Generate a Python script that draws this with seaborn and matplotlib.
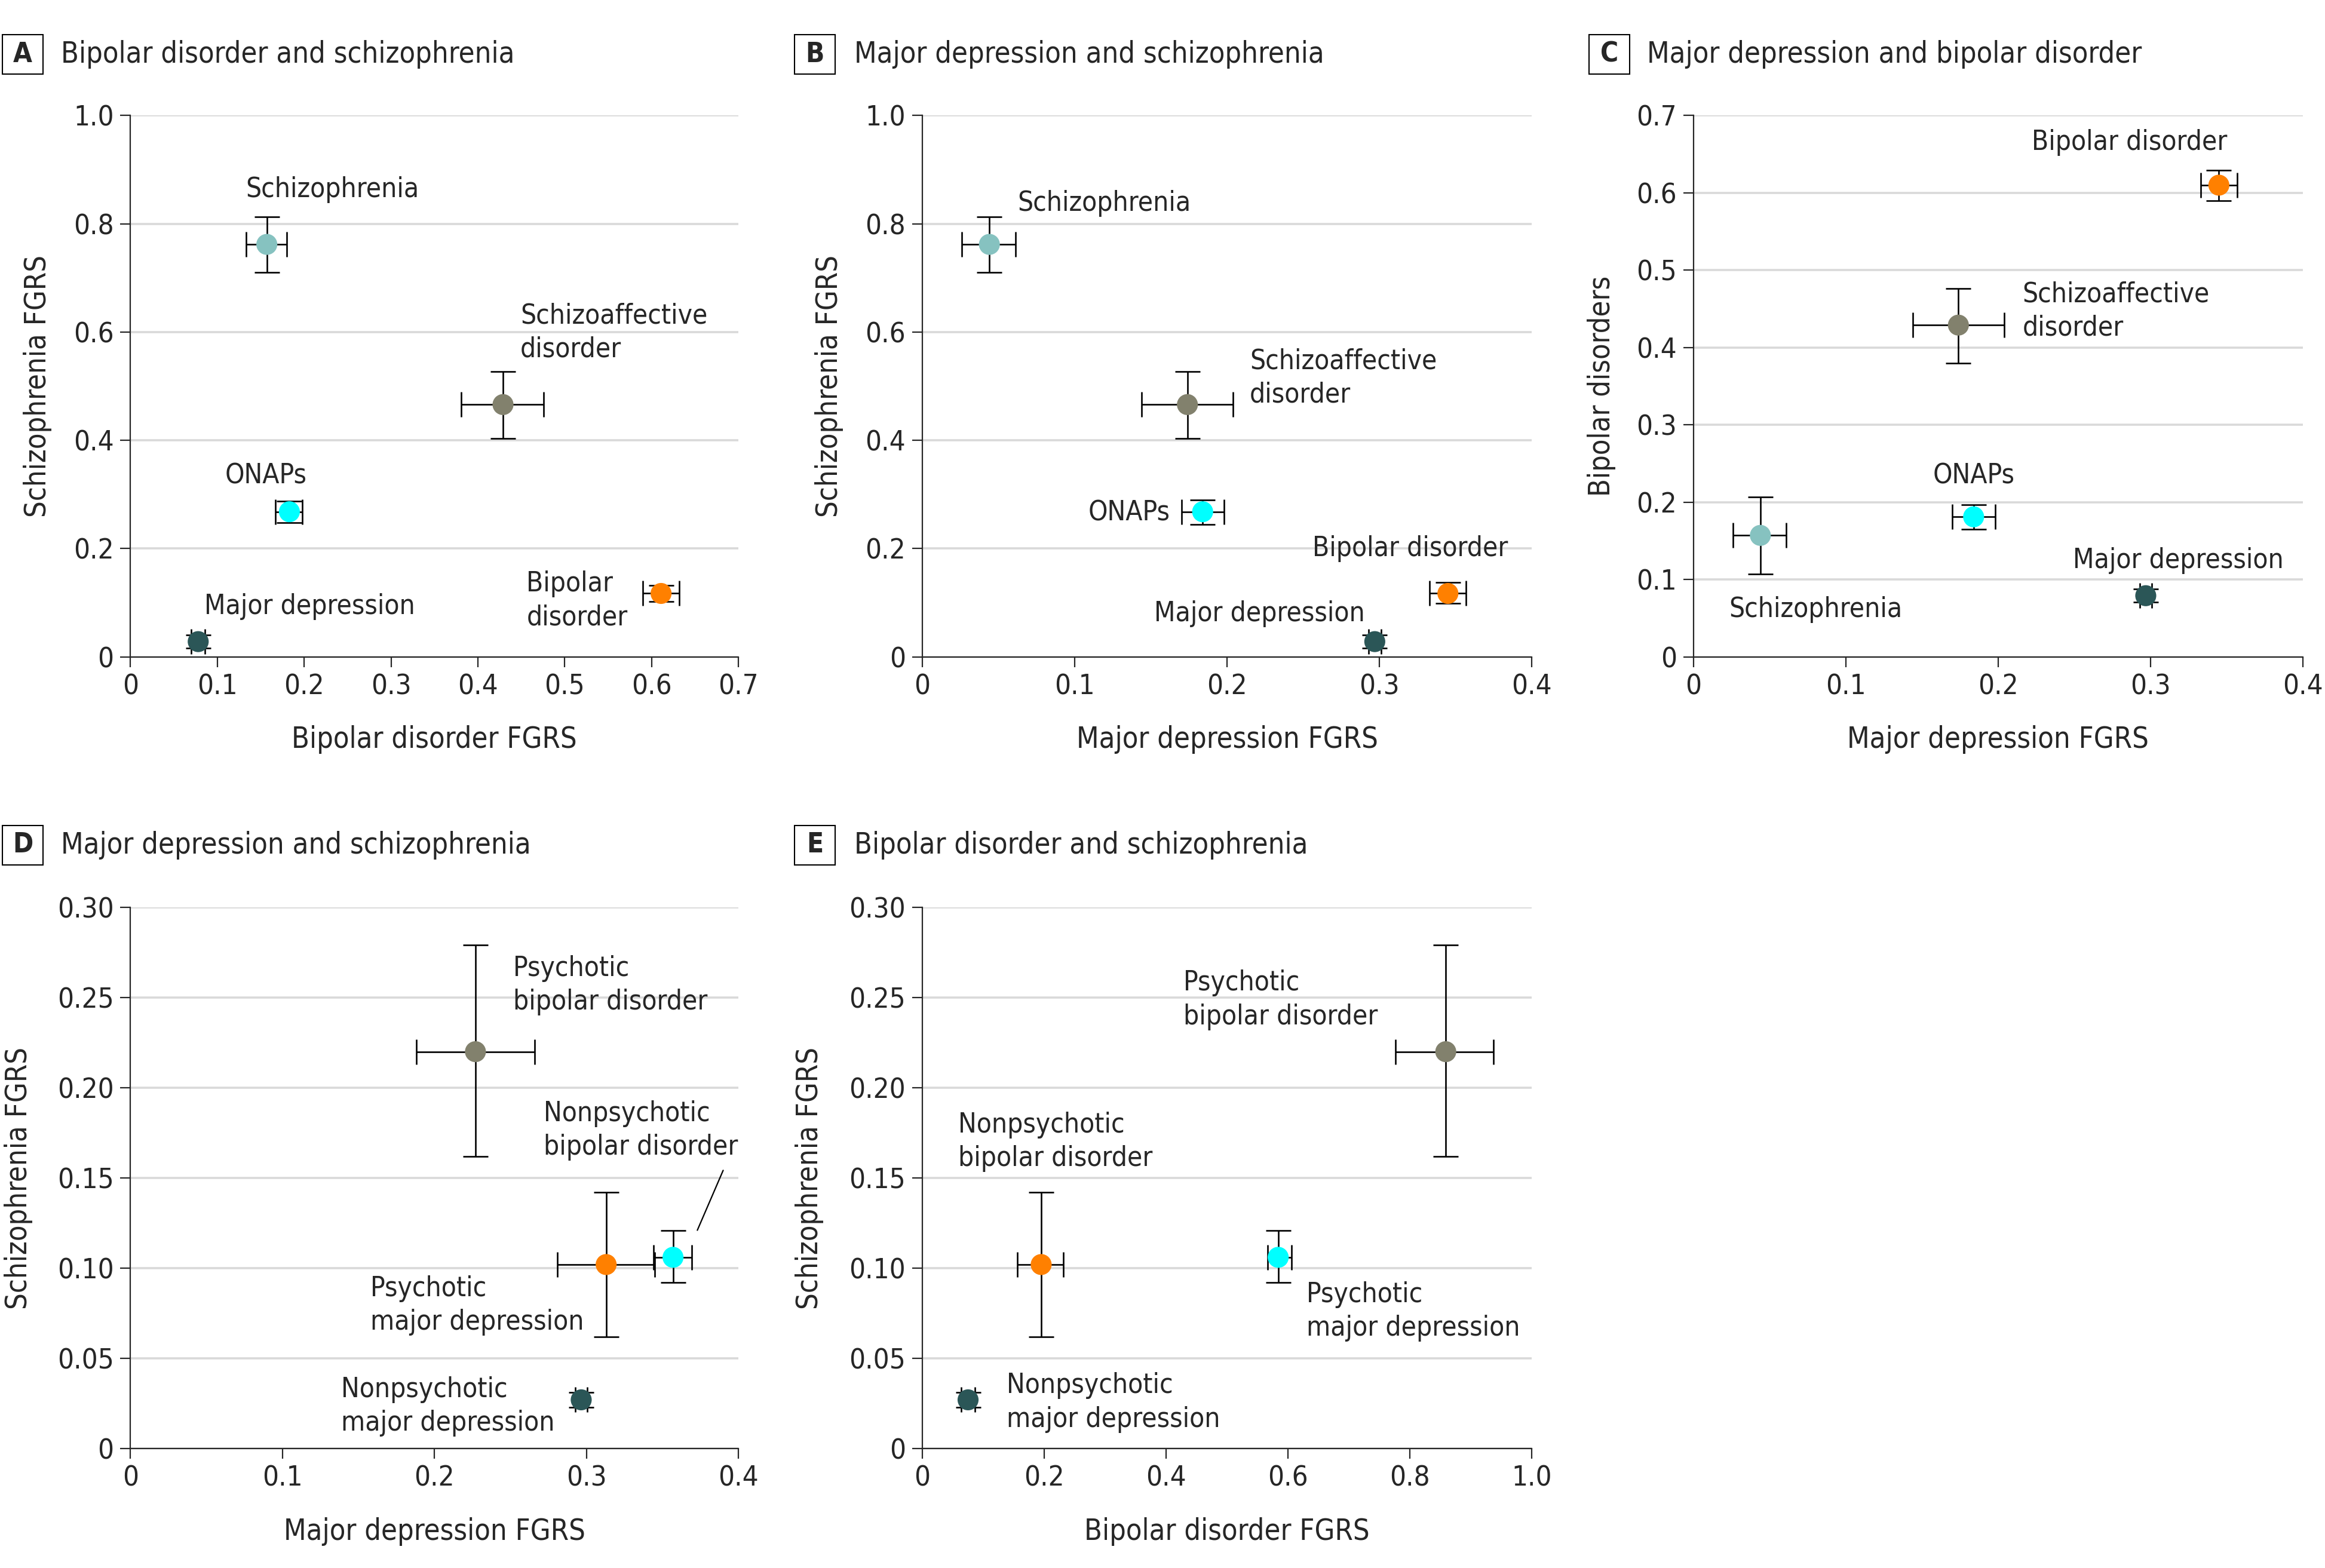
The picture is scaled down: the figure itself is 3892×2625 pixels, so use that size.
import numpy as np
import pandas as pd
import matplotlib
matplotlib.use('Agg')
import matplotlib.pyplot as plt
import matplotlib.ticker as mticker
from matplotlib.patches import Rectangle
import seaborn as sns

sns.set_style('ticks')
plt.rcParams['font.family'] = ['Liberation Sans Narrow', 'DejaVu Sans']
plt.rcParams['font.stretch'] = 'condensed'

# group colours
sz_col = '#86C2C0'
sza_col = '#82816D'
onap_col = '#00FFFF'
bd_col = '#FF8000'
md_col = '#2B5657'

# A: bipolar disorder FGRS (x) vs schizophrenia FGRS (y)
a_names = ['Schizophrenia', 'Schizoaffective disorder', 'ONAPs', 'Bipolar disorder', 'Major depression']
a_x = [0.157, 0.429, 0.183, 0.611, 0.078]
a_xlo = [0.133, 0.381, 0.167, 0.590, 0.070]
a_xhi = [0.180, 0.476, 0.198, 0.632, 0.086]
a_y = [0.762, 0.466, 0.268, 0.117, 0.028]
a_ylo = [0.710, 0.403, 0.248, 0.102, 0.016]
a_yhi = [0.813, 0.527, 0.288, 0.132, 0.040]

# B: major depression FGRS (x) vs schizophrenia FGRS (y)
b_names = a_names
b_x = [0.044, 0.174, 0.184, 0.345, 0.297]
b_xlo = [0.026, 0.144, 0.170, 0.333, 0.293]
b_xhi = [0.061, 0.204, 0.198, 0.357, 0.301]
b_y = [0.762, 0.466, 0.268, 0.117, 0.028]
b_ylo = [0.710, 0.403, 0.245, 0.099, 0.016]
b_yhi = [0.813, 0.527, 0.290, 0.137, 0.040]

# C: major depression FGRS (x) vs bipolar disorder FGRS (y)
c_names = a_names
c_x = [0.044, 0.174, 0.184, 0.345, 0.297]
c_xlo = [0.026, 0.144, 0.170, 0.333, 0.293]
c_xhi = [0.061, 0.204, 0.198, 0.357, 0.301]
c_y = [0.157, 0.429, 0.181, 0.610, 0.079]
c_ylo = [0.107, 0.380, 0.165, 0.590, 0.0705]
c_yhi = [0.207, 0.476, 0.197, 0.629, 0.0875]

# D: major depression FGRS (x) vs schizophrenia FGRS (y), subtypes
d_names = ['Psychotic bipolar disorder', 'Psychotic major depression',
           'Nonpsychotic bipolar disorder', 'Nonpsychotic major depression']
d_x = [0.227, 0.313, 0.357, 0.2966]
d_xlo = [0.188, 0.281, 0.344, 0.2926]
d_xhi = [0.266, 0.345, 0.3695, 0.3006]
d_y = [0.220, 0.102, 0.106, 0.027]
d_ylo = [0.162, 0.062, 0.092, 0.023]
d_yhi = [0.279, 0.142, 0.121, 0.031]

# E: bipolar disorder FGRS (x) vs schizophrenia FGRS (y), subtypes
e_names = ['Psychotic bipolar disorder', 'Nonpsychotic bipolar disorder',
           'Psychotic major depression', 'Nonpsychotic major depression']
e_x = [0.859, 0.195, 0.584, 0.075]
e_xlo = [0.776, 0.156, 0.567, 0.064]
e_xhi = [0.937, 0.231, 0.606, 0.086]
e_y = [0.220, 0.102, 0.106, 0.027]
e_ylo = [0.162, 0.062, 0.092, 0.023]
e_yhi = [0.279, 0.142, 0.121, 0.031]

five_cols = [sz_col, sza_col, onap_col, bd_col, md_col]
four_cols = [sza_col, bd_col, onap_col, md_col]

W, H = 3892, 2625
fig = plt.figure(figsize=(W / 100, H / 100), dpi=100)

FS = 33      # point labels
TFS = 34     # tick labels
LFS = 35     # axis labels and panel titles


def fmt(dec):
    return mticker.FuncFormatter(lambda v, p: '0' if abs(v) < 1e-9 else f'{v:.{dec}f}')


def panel(rect, names, x, xlo, xhi, y, ylo, yhi, cols, xlim, xstep, xdec, ylim, ystep, ydec,
          xlabel, ylabel, ylab_x, labels):
    ax = fig.add_axes(rect)
    x = np.array(x); y = np.array(y)
    ax.errorbar(x, y, xerr=[x - np.array(xlo), np.array(xhi) - x],
                yerr=[y - np.array(ylo), np.array(yhi) - y],
                fmt='none', ecolor='black', elinewidth=1.9, capsize=15, capthick=1.9, zorder=2)
    df = pd.DataFrame({'x': x, 'y': y, 'g': names})
    sns.scatterplot(data=df, x='x', y='y', hue='g', hue_order=names, palette=cols,
                    s=640, linewidth=0, legend=False, ax=ax, zorder=3)
    ax.set_xlim(*xlim)
    ax.set_ylim(*ylim)
    ax.set_xticks(np.arange(xlim[0], xlim[1] + xstep / 2, xstep))
    ax.set_yticks(np.arange(ylim[0], ylim[1] + ystep / 2, ystep))
    ax.xaxis.set_major_formatter(fmt(xdec))
    ax.yaxis.set_major_formatter(fmt(ydec))
    ax.grid(axis='y', color='#D9D9D9', lw=2.6, zorder=0)
    ax.set_axisbelow(True)
    sns.despine(ax=ax)
    for s in ['left', 'bottom']:
        ax.spines[s].set_linewidth(1.6)
    ax.tick_params(direction='out', length=12, width=1.6, labelsize=TFS, pad=8)
    ax.set_xlabel(xlabel, fontsize=LFS)
    ax.set_ylabel(ylabel, fontsize=LFS)
    ax.xaxis.set_label_coords(0.5, -0.153)
    ax.xaxis.label.set_va('center')
    ax.yaxis.set_label_coords(ylab_x, 0.5)
    ax.yaxis.label.set_va('center')
    for txt, tx, ty, ha in labels:
        ax.text(tx, ty, txt, fontsize=FS, ha=ha, va='center', linespacing=1.33, zorder=4)
    return ax


def title(letter, text, box_x, text_x, yc):
    bw, bh = 68, 66
    fig.patches.append(Rectangle((box_x / W, 1 - (yc + bh / 2) / H), bw / W, bh / H,
                                 transform=fig.transFigure, fill=False, ec='black', lw=1.5))
    fig.text((box_x + bw / 2) / W, 1 - yc / H, letter, fontsize=FS, fontweight='bold',
             ha='center', va='center')
    fig.text(text_x / W, 1 - yc / H, text, fontsize=LFS, ha='left', va='center')


row1 = 1 - 1099.5 / H
row2 = 1 - 2425 / H
aw, ah = 1020 / W, 906 / H

panel([218.4 / W, row1, 1017.6 / W, ah], a_names, a_x, a_xlo, a_xhi, a_y, a_ylo, a_yhi, five_cols,
      (0, 0.7), 0.1, 1, (0, 1.0), 0.2, 1, 'Bipolar disorder FGRS', 'Schizophrenia FGRS', -0.153,
      [('Schizophrenia', 0.133, 0.863, 'left'),
       ('Schizoaffective\ndisorder', 0.449, 0.599, 'left'),
       ('ONAPs', 0.109, 0.334, 'left'),
       ('Bipolar\ndisorder', 0.456, 0.103, 'left'),
       ('Major depression', 0.085, 0.093, 'left')])

panel([1544 / W, row1, aw, ah], b_names, b_x, b_xlo, b_xhi, b_y, b_ylo, b_yhi, five_cols,
      (0, 0.4), 0.1, 1, (0, 1.0), 0.2, 1, 'Major depression FGRS', 'Schizophrenia FGRS', -0.153,
      [('Schizophrenia', 0.0623, 0.838, 'left'),
       ('Schizoaffective\ndisorder', 0.215, 0.515, 'left'),
       ('ONAPs', 0.1625, 0.266, 'right'),
       ('Bipolar disorder', 0.256, 0.200, 'left'),
       ('Major depression', 0.152, 0.079, 'left')])

panel([2834.6 / W, row1, aw, ah], c_names, c_x, c_xlo, c_xhi, c_y, c_ylo, c_yhi, five_cols,
      (0, 0.4), 0.1, 1, (0, 0.7), 0.1, 1, 'Major depression FGRS', 'Bipolar disorders', -0.151,
      [('Bipolar disorder', 0.222, 0.6655, 'left'),
       ('Schizoaffective\ndisorder', 0.216, 0.447, 'left'),
       ('ONAPs', 0.184, 0.234, 'center'),
       ('Major depression', 0.249, 0.1247, 'left'),
       ('Schizophrenia', 0.0234, 0.0614, 'left')])

axd = panel([218.4 / W, row2, 1017.6 / W, ah], d_names, d_x, d_xlo, d_xhi, d_y, d_ylo, d_yhi, four_cols,
            (0, 0.4), 0.1, 1, (0, 0.30), 0.05, 2, 'Major depression FGRS', 'Schizophrenia FGRS', -0.184,
            [('Psychotic\nbipolar disorder', 0.2517, 0.2568, 'left'),
             ('Nonpsychotic\nbipolar disorder', 0.272, 0.1763, 'left'),
             ('Psychotic\nmajor depression', 0.158, 0.0793, 'left'),
             ('Nonpsychotic\nmajor depression', 0.1385, 0.0234, 'left')])
axd.plot([0.390, 0.373], [0.1542, 0.121], color='black', lw=1.6, zorder=4)

panel([1544 / W, row2, aw, ah], e_names, e_x, e_xlo, e_xhi, e_y, e_ylo, e_yhi, four_cols,
      (0, 1.0), 0.2, 1, (0, 0.30), 0.05, 2, 'Bipolar disorder FGRS', 'Schizophrenia FGRS', -0.185,
      [('Psychotic\nbipolar disorder', 0.428, 0.2486, 'left'),
       ('Nonpsychotic\nbipolar disorder', 0.0584, 0.170, 'left'),
       ('Psychotic\nmajor depression', 0.630, 0.076, 'left'),
       ('Nonpsychotic\nmajor depression', 0.1387, 0.0255, 'left')])

title('A', 'Bipolar disorder and schizophrenia', 4, 102, 91)
title('B', 'Major depression and schizophrenia', 1330, 1430, 91)
title('C', 'Major depression and bipolar disorder', 2660, 2757, 91)
title('D', 'Major depression and schizophrenia', 4, 102, 1415)
title('E', 'Bipolar disorder and schizophrenia', 1330, 1430, 1415)

fig.savefig('out.png', dpi=100, facecolor='white')
